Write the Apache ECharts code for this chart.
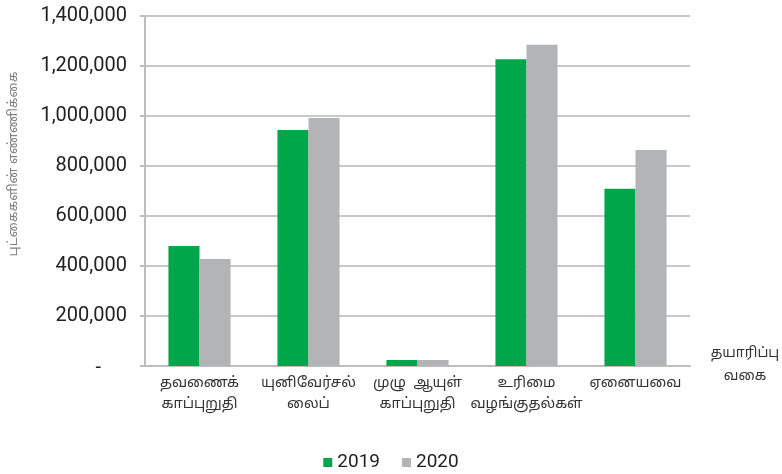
<!DOCTYPE html>
<html><head><meta charset="utf-8">
<script src="https://cdn.jsdelivr.net/npm/echarts@6/dist/echarts.min.js"></script>
<style>html,body{margin:0;padding:0;background:#fff}#c{width:782px;height:474px}</style>
</head><body><div id="c"></div>
<script>
const categories = ["தவணைக்\nகாப்புறுதி", "யுனிவேர்சல்\nலைப்", "முழு  ஆயுள்\nகாப்புறுதி", "உரிமை\nவழங்குதல்கள்", "ஏனையவை"];
const series2019 = [480000, 944000, 24000, 1227000, 709000];
const series2020 = [428000, 992000, 24000, 1285000, 864000];
const yTitle = "புட்கைகளின் எண்ணிக்கை";
const xTitle = "தயாரிப்பு\nவகை";
const TAMIL = "'Noto Sans Tamil', 'Noto Sans', 'Lohit Tamil', sans-serif";

const chart = echarts.init(document.getElementById('c'));
chart.setOption({
  animation: false,
  grid: {left: 145, right: 92, top: 16, bottom: 108, outerBoundsMode: 'none', containLabel: false},
  legend: {
    bottom: -3, left: 'center', itemWidth: 9, itemHeight: 9, itemGap: 22,
    icon: 'rect',
    textStyle: {fontFamily: 'Roboto', fontSize: 19, color: '#222'},
    data: ['2019', '2020']
  },
  graphic: [{
    type: 'text', x: 14, y: 164, rotation: Math.PI / 2,
    style: {text: yTitle, fontFamily: TAMIL, fontSize: 13, fill: '#808080', align: 'center', verticalAlign: 'middle'}
  }],
  xAxis: {
    type: 'category', data: categories,
    name: xTitle, nameLocation: 'end', nameGap: 55,
    nameTextStyle: {fontFamily: TAMIL, fontSize: 14, color: '#333', align: 'center', verticalAlign: 'middle', lineHeight: 23, padding: [4, 0, 0, 0]},
    axisLine: {lineStyle: {color: '#bdbdbd', width: 2}},
    axisTick: {show: false},
    axisLabel: {fontFamily: TAMIL, fontSize: 14.5, color: '#333', lineHeight: 21, margin: 8, interval: 0}
  },
  yAxis: {
    type: 'value', min: 0, max: 1400000, interval: 200000,
    axisLine: {show: true, lineStyle: {color: '#bdbdbd', width: 2}},
    axisTick: {show: true, length: 5, lineStyle: {color: '#bdbdbd', width: 2}},
    splitLine: {lineStyle: {color: '#c8c8c8', width: 2}},
    axisLabel: {
      fontFamily: 'Roboto', fontSize: 20, color: '#222', margin: 18,
      formatter: v => v === 0 ? '{d|-}' : v.toLocaleString('en-US'),
      rich: {d: {fontFamily: 'Roboto', fontSize: 20, color: '#222', padding: [4, 26, 0, 0]}}
    }
  },
  series: [
    {name: '2019', type: 'bar', data: series2019, barGap: '0%', barCategoryGap: '43%',
     itemStyle: {color: '#00a74a'}},
    {name: '2020', type: 'bar', data: series2020,
     itemStyle: {color: '#b3b4b6'}}
  ]
});
</script></body></html>
